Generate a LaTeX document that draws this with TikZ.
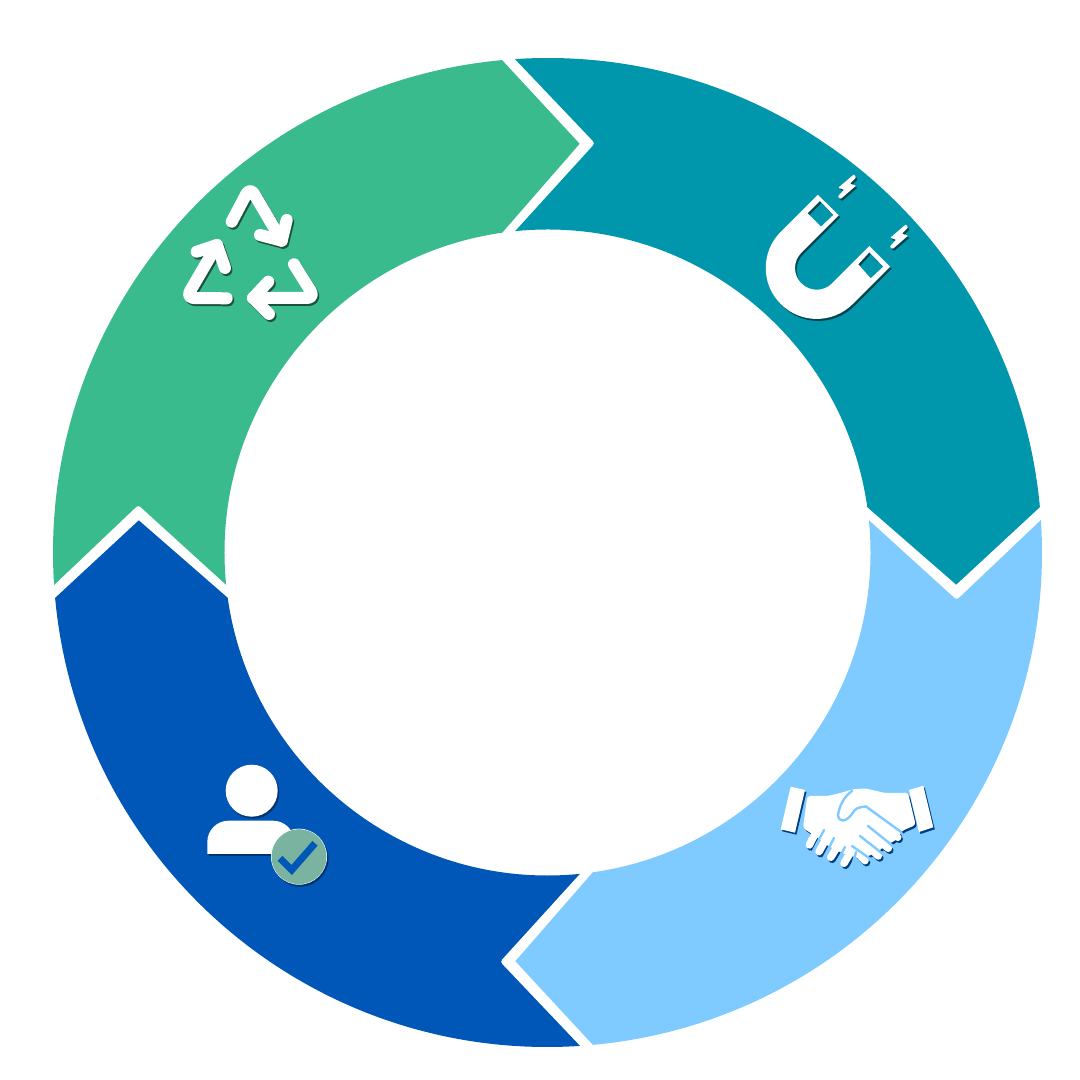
\documentclass[tikz,border=0pt]{standalone}
\usepackage{xcolor}
\definecolor{ringteal}{HTML}{0097AD}
\definecolor{ringgreen}{HTML}{3ABB8E}
\definecolor{ringblue}{HTML}{0057B8}
\definecolor{ringlight}{HTML}{7FCAFF}
\definecolor{badgegreen}{HTML}{7AB3A0}
\newcommand{\shadowicon}[2]{%
  \begin{scope}[shift={(1.5,2)}]\colorlet{iconcol}{#1}#2\end{scope}
  \begin{scope}\colorlet{iconcol}{white}#2\end{scope}}
\tikzset{
  arrowline/.style={draw=iconcol, line width=12pt, line cap=round, line join=round},
  fingerline/.style={draw=iconcol, line width=7.5pt, line cap=round},
  gapline/.style={draw=ringlight, line width=2.4pt, line cap=round},
}

\begin{document}
\begin{tikzpicture}[x=1pt, y=1pt]
  \useasboundingbox (0,0) rectangle (1080,1080);

  % Ring of four arrow pieces
  \foreach \col/\rot in {ringlight/0, ringteal/90, ringgreen/180, ringblue/270} {
    \begin{scope}[shift={(547.5,527.5)}, rotate=\rot]
      \fill[\col] (3.77:494.5pt) arc[start angle=3.77, end angle=-84.73, radius=494.5pt]
        -- (-94.5:410pt) -- (-81.94:323pt)
        arc[start angle=-81.94, end angle=5.75, radius=323pt]
        [rounded corners=3pt] -- (-6.63:412pt) [sharp corners] -- cycle;
    \end{scope}
  }

  % Icons, in picture coordinates from the top left
  \begin{scope}[yshift=1080pt, y=-1pt]
    % Recycle
    \shadowicon{ringgreen!45!black}{
      \draw[arrowline, rounded corners=8pt] (231.7,221.7) -- (250,187) -- (281.7,240.7);
      \draw[arrowline] (260,235) -- (281.7,240.7) -- (286.7,220);
      \draw[arrowline, rounded corners=8pt] (226.7,298.3) -- (186,298) -- (217,245);
      \draw[arrowline] (196.7,251.7) -- (217,245) -- (225,268);
      \draw[arrowline, rounded corners=8pt] (294,264.3) -- (315,298) -- (253,298);
      \draw[arrowline] (268.3,281.7) -- (253,298) -- (269,314);
    }

    % Magnet
    \shadowicon{ringteal!45!black}{
      \fill[iconcol, even odd rule] (817.9,194.7) -- (838.7,215.4) -- (801.4,252.7)
        arc[start angle=135, end angle=315, radius=21.7pt]
        -- (869.3,246) -- (890.1,266.7) -- (852.8,304)
        arc[start angle=-45, end angle=-225, radius=51pt] -- cycle
        (820,201) -- (833.3,215) -- (821,226.7) -- (807.7,213.3) -- cycle
        (869.3,252.3) -- (883.3,266.7) -- (870.7,278.3) -- (858.3,264.3) -- cycle;
      \foreach \bx/\by in {0/0, 52/50} {
        \fill[iconcol, rounded corners=0.8pt, shift={(\bx,\by)}]
          (854,174.3) -- (838.3,187.7) -- (844,189.7) -- (837.7,196.7) -- (840.7,199)
          -- (856,185.7) -- (850,183.7) -- (856,177.7) -- cycle;
      }
    }

    % Handshake
    \shadowicon{ringblue!70!black}{
      \fill[iconcol] (790.7,786.7) -- (805,790) -- (795,832.7) -- (780.7,829.3) -- cycle;
      \fill[iconcol] (909,790) -- (923.3,785.7) -- (933.3,827.3) -- (919,832) -- cycle;
      \fill[iconcol, rounded corners=3pt] (807.3,796) -- (828,796) -- (841.7,792.7)
        -- (853,789.3) -- (865,788.3) -- (885,793) -- (908,792.7) -- (915.7,825)
        -- (901.7,831) -- (896,840) -- (885,846) -- (876,853) -- (863,858)
        -- (850,856) -- (840,852) -- (828,846) -- (818,838) -- (803,828) -- cycle;
      \foreach \fa/\fb/\fc/\fd in {815/834/809.3/845, 827.3/836.7/819/851.7,
          838.3/845/830.7/857.3, 850/853.3/844/863.3, 870/815/897.7/837.3,
          866.7/830/888.3/848.3, 860/838.3/878.3/856, 853/848/865/860.7} {
        \draw[fingerline] (\fa,\fb) -- (\fc,\fd);
      }
      \draw[gapline] (852,791) .. controls (843,797) and (839,808) .. (838,815)
        .. controls (839,823) and (846,822) .. (852,814)
        .. controls (855,808) and (859,807) .. (866,806.5)
        -- (901,832);
      \draw[gapline] (868,826) -- (893,846);
      \draw[gapline] (860,836) -- (883,854);
      \draw[gapline] (852,846) -- (872,860);
      \draw[gapline] (824,830) -- (813,851);
      \draw[gapline] (834,838) -- (824,857);
      \draw[gapline] (845,847) -- (837,862);
      \draw[gapline] (856,852) -- (852,866);
    }

    % Person with check badge
    \shadowicon{ringblue!60!black}{
      \fill[iconcol] (251.7,790.7) circle (26pt);
      \fill[iconcol] (207.3,854) -- (207.3,842)
        arc[start angle=180, end angle=90, radius=21.3pt] -- (273,820.7)
        arc[start angle=90, end angle=0, radius=21.3pt] -- (294.3,854) -- cycle;
      \fill[iconcol] (299,856.7) circle (28pt);
    }
    \fill[badgegreen] (299,856.7) circle (27.5pt);
    \draw[ringblue, line width=7pt] (280,858.3) -- (291.7,870) -- (315,843.3);
  \end{scope}
\end{tikzpicture}
\end{document}
